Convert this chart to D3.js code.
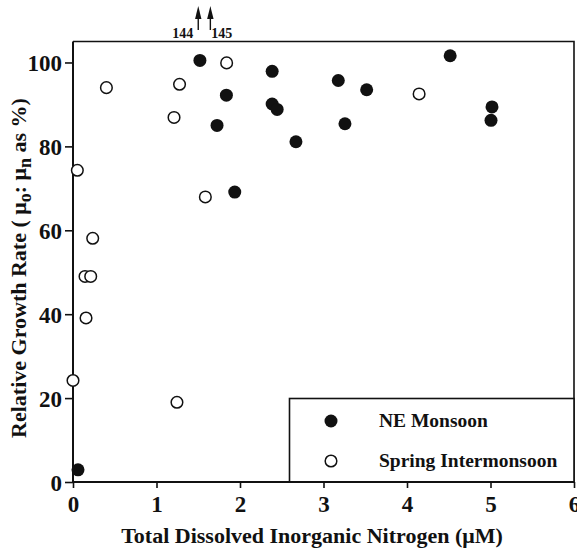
<!DOCTYPE html>
<html>
<head>
<meta charset="utf-8">
<script src="https://cdn.jsdelivr.net/npm/d3@7"></script>
<style>
  html, body { margin: 0; padding: 0; background: #fff; }
  svg { display: block; }
  text { font-family: "Liberation Serif", "Times New Roman", serif; font-weight: bold; fill: #111; }
</style>
</head>
<body>
<svg id="chart" width="577" height="551"></svg>
<script>
// ---- Data ----
const neX = [1.52, 2.385, 1.837, 1.725, 2.385, 2.445, 2.67, 1.937, 4.517, 3.177, 3.517, 5.018, 5.006, 3.257, 0.06];
const neY = [100.5, 97.9, 92.2, 85.0, 90.1, 88.8, 81.1, 69.1, 101.6, 95.7, 93.5, 89.4, 86.2, 85.4, 2.9];

const springX = [1.84, 1.276, 0.40, 1.21, 0.052, 1.585, 0.236, 4.145, 0.144, 0.212, 0.156, 0.0, 1.245];
const springY = [99.9, 94.8, 94.0, 86.9, 74.3, 67.95, 58.1, 92.5, 49.0, 49.0, 39.1, 24.2, 19.0];

// off-scale values shown with arrows
const offX = [1.50, 1.645];
const offLabels = ["144", "145"];

const xTicks = [0, 1, 2, 3, 4, 5, 6];
const yTicks = [0, 20, 40, 60, 80, 100];
const seriesNames = ["NE Monsoon", "Spring Intermonsoon"];

// ---- Layout ----
const svg = d3.select("#chart");
const mLeft = 73, mRight = 574, mTop = 41.5, mBottom = 482;

const x = d3.scaleLinear().domain([0, 6]).range([mLeft, mRight]);
const y = d3.scaleLinear().domain([0, 105]).range([mBottom, mTop]);

// plot frame (top and right)
svg.append("path")
  .attr("d", `M${mLeft},${mTop}H${mRight}V${mBottom}`)
  .attr("fill", "none").attr("stroke", "#111").attr("stroke-width", 1.6);

// legend box
const legend = svg.append("g");
legend.append("rect")
  .attr("x", 289.5).attr("y", 398.5)
  .attr("width", mRight - 289.5).attr("height", mBottom - 398.5)
  .attr("fill", "#fff").attr("stroke", "#111").attr("stroke-width", 1.6);

// axes
const xAxis = d3.axisBottom(x).tickValues(xTicks).tickFormat(d3.format("d")).tickSize(6).tickPadding(8);
const yAxis = d3.axisLeft(y).tickValues(yTicks).tickFormat(d3.format("d")).tickSize(8).tickPadding(3);

const gx = svg.append("g").attr("transform", `translate(0,${mBottom})`).call(xAxis);
const gy = svg.append("g").attr("transform", `translate(${mLeft},0)`).call(yAxis);

[gx, gy].forEach(g => {
  g.select(".domain").attr("stroke", "#111").attr("stroke-width", 2);
  g.selectAll(".tick line").attr("stroke", "#111").attr("stroke-width", 1.6);
  g.selectAll(".tick text")
    .attr("fill", "#111")
    .style("font-family", '"Liberation Serif", serif')
    .style("font-weight", "bold")
    .style("font-size", "23px");
});
gy.select(".domain").attr("d", `M0,${mBottom}V${mTop}`);
gx.select(".domain").attr("d", `M${mLeft},0H${mRight}`);
gy.selectAll(".tick text").attr("dy", "0.36em");
gx.selectAll(".tick text").attr("dy", "0.68em");

// points
const ne = neX.map((v, i) => ({ x: v, y: neY[i] }));
const sp = springX.map((v, i) => ({ x: v, y: springY[i] }));

svg.append("g").selectAll("circle").data(sp).join("circle")
  .attr("cx", d => x(d.x)).attr("cy", d => y(d.y)).attr("r", 5.8)
  .attr("fill", "#fff").attr("stroke", "#111").attr("stroke-width", 1.5);

svg.append("g").selectAll("circle").data(ne).join("circle")
  .attr("cx", d => x(d.x)).attr("cy", d => y(d.y)).attr("r", 6.5)
  .attr("fill", "#111");

// legend entries
legend.append("circle").attr("cx", 331).attr("cy", 421).attr("r", 6.5).attr("fill", "#111");
legend.append("circle").attr("cx", 331).attr("cy", 461).attr("r", 5.8)
  .attr("fill", "#fff").attr("stroke", "#111").attr("stroke-width", 1.5);
legend.selectAll("text.lg").data(seriesNames).join("text").attr("class", "lg")
  .attr("x", 379).attr("y", (d, i) => 427 + i * 40)
  .style("font-size", "19.5px").text(d => d);

// off-scale arrows
const arrows = svg.append("g");
offX.forEach((v, i) => {
  const ax = x(v);
  arrows.append("line").attr("x1", ax).attr("x2", ax).attr("y1", 30).attr("y2", 16)
    .attr("stroke", "#111").attr("stroke-width", 1.4);
  arrows.append("path").attr("d", `M${ax},6L${ax - 3.2},19L${ax + 3.2},19Z`).attr("fill", "#111");
});
arrows.append("text").attr("x", x(offX[0]) - 5).attr("y", 38).attr("text-anchor", "end")
  .style("font-size", "14px").text(offLabels[0]);
arrows.append("text").attr("x", x(offX[1]) + 1).attr("y", 38).attr("text-anchor", "start")
  .style("font-size", "14px").text(offLabels[1]);

// x axis title
svg.append("text").attr("x", 312).attr("y", 543).attr("text-anchor", "middle")
  .style("font-size", "22px").text("Total Dissolved Inorganic Nitrogen (μM)");

// y axis title with subscripts
const yt = svg.append("text")
  .attr("transform", "translate(26,268) rotate(-90)")
  .attr("text-anchor", "middle").style("font-size", "22px");
yt.append("tspan").text("Relative Growth Rate ( μ");
yt.append("tspan").attr("baseline-shift", "-25%").style("font-size", "18px").text("o");
yt.append("tspan").text(": μ");
yt.append("tspan").attr("baseline-shift", "-25%").style("font-size", "18px").text("n");
yt.append("tspan").text(" as %)");
</script>
</body>
</html>
